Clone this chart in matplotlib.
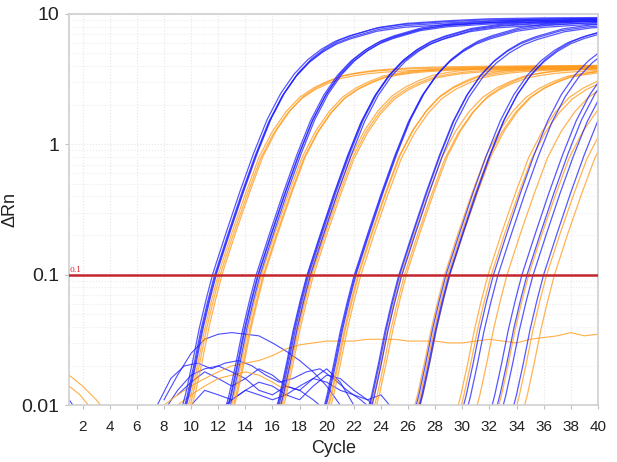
import matplotlib.pyplot as plt
from matplotlib.ticker import FixedLocator, LogLocator, NullFormatter

plt.rcParams['font.family'] = ['Liberation Sans', 'DejaVu Sans']

# amplification profile: log10(dRn) against cycles past the 0.1 crossing
profile_offset = [-3, -2.5, -2, -1.5, -1, -0.5, 0, 1, 2, 3, 4, 5, 6, 7, 8, 9, 10, 11, 12, 14, 17, 20, 24, 30]
blue_log = [-2.35, -2.12, -1.92, -1.68, -1.42, -1.2, -1.0, -0.68, -0.37, -0.08, 0.18, 0.38, 0.53,
            0.64, 0.72, 0.78, 0.82, 0.85, 0.88, 0.91, 0.93, 0.945, 0.952, 0.956]
orange_log = [-2.35, -2.12, -1.92, -1.68, -1.42, -1.2, -1.0, -0.68, -0.38, -0.1, 0.1, 0.25, 0.36,
              0.43, 0.48, 0.52, 0.54, 0.555, 0.565, 0.578, 0.586, 0.59, 0.594, 0.597]

# threshold crossing cycle and plateau factor per well
blue_ct = [11.6, 11.7, 11.8, 11.9, 14.8, 14.9, 15.0, 15.1, 18.5, 18.6, 18.7, 18.8,
           22.0, 22.1, 22.2, 25.3, 25.4, 25.5, 28.8, 29.0, 29.1,
           32.3, 32.6, 34.4, 34.8, 35.2, 36.0]
blue_gain = [1.02, 0.97, 1.0, 1.04, 1.0, 0.98, 1.03, 1.01, 0.96, 1.0, 1.02, 0.99,
             0.97, 1.0, 1.03, 0.98, 1.01, 0.96, 1.0, 0.98, 1.02,
             1.0, 0.97, 1.0, 1.02, 0.98, 1.0]
orange_ct = [12.0, 12.1, 12.3, 15.2, 15.3, 15.4, 18.8, 18.9, 19.0,
             22.3, 22.4, 22.5, 25.5, 25.7, 25.9, 28.7, 28.9, 29.1,
             31.9, 32.1, 33.3, 34.9, 36.2, 36.8]
orange_gain = [1.0, 0.97, 1.02, 1.01, 0.98, 1.0, 1.02, 0.99, 0.97, 1.0, 1.03, 0.98,
               1.0, 0.97, 1.02, 1.0, 0.98, 1.01, 1.0, 0.97, 1.0, 1.0, 0.98, 1.0]

# baseline noise traces (cycle, dRn)
blue_noise = [
    ([8, 9, 10, 11, 12, 13, 14, 15, 16, 17, 18, 19, 20, 21],
     [0.011, 0.017, 0.025, 0.032, 0.035, 0.036, 0.035, 0.034, 0.030, 0.026, 0.022, 0.018, 0.014, 0.010]),
    ([7.5, 8.5, 9.5, 10.5, 11.5, 12.5, 13.5, 14.5, 15.5, 16.5, 17.5, 18.5, 19.5, 20.5, 21.5, 22.5, 23.5],
     [0.010, 0.016, 0.020, 0.021, 0.019, 0.021, 0.022, 0.020, 0.017, 0.015, 0.016, 0.018, 0.019, 0.016,
      0.013, 0.011, 0.009]),
    ([9, 10, 11, 12, 13, 14, 15, 16, 17, 18, 19, 20, 21, 22],
     [0.012, 0.015, 0.018, 0.016, 0.014, 0.016, 0.019, 0.017, 0.014, 0.013, 0.016, 0.019, 0.015, 0.010]),
    ([10, 11, 12, 13, 14, 15, 16, 17, 18, 19, 20, 21, 22, 23, 24],
     [0.010, 0.013, 0.012, 0.011, 0.013, 0.015, 0.014, 0.012, 0.011, 0.014, 0.017, 0.016, 0.013, 0.011, 0.009]),
    ([8, 9, 10, 11, 12, 13, 14, 15, 16, 17, 18, 19, 20],
     [0.009, 0.013, 0.017, 0.019, 0.020, 0.018, 0.016, 0.013, 0.012, 0.014, 0.013, 0.011, 0.009]),
    ([12, 13, 14, 15, 16, 17, 18, 19, 20, 21, 22, 23, 24, 25],
     [0.009, 0.011, 0.013, 0.012, 0.011, 0.012, 0.014, 0.016, 0.015, 0.013, 0.012, 0.011, 0.012, 0.009]),
    ([1, 1.6], [0.011, 0.009]),
]
orange_noise = [
    ([8, 9, 10, 11, 12, 13, 14, 15, 16, 17, 18, 19, 20, 21, 22, 23, 24, 25, 26, 27, 28, 29, 30,
      31, 32, 33, 34, 35, 36, 37, 38, 39, 40],
     [0.010, 0.012, 0.014, 0.016, 0.018, 0.020, 0.021, 0.022, 0.024, 0.027, 0.029, 0.030, 0.031,
      0.031, 0.031, 0.032, 0.032, 0.032, 0.031, 0.031, 0.031, 0.030, 0.030, 0.031, 0.032, 0.031,
      0.030, 0.032, 0.033, 0.034, 0.036, 0.034, 0.035]),
    ([9, 10, 11, 12, 13, 14, 15, 16, 17],
     [0.010, 0.012, 0.014, 0.016, 0.017, 0.018, 0.017, 0.015, 0.013]),
    ([1, 2, 3, 3.5], [0.017, 0.014, 0.011, 0.0095]),
    ([1, 1.8, 2.6], [0.014, 0.012, 0.0095]),
]

x_ticks = list(range(2, 41, 2))
threshold = 0.1

BLUE = '#1f1fff'
ORANGE = '#ff9a1a'

fig = plt.figure(figsize=(6.17, 4.62), dpi=100)
ax = fig.add_axes([0.112, 0.123, 0.857, 0.847])

for (xs, ys) in blue_noise:
    ax.plot(xs, ys, color=BLUE, lw=0.8, alpha=0.8)
for (xs, ys) in orange_noise:
    ax.plot(xs, ys, color=ORANGE, lw=0.8, alpha=0.8)

for ct, g in zip(orange_ct, orange_gain):
    xs = [ct + o for o in profile_offset]
    ys = [g * 10 ** v for v in orange_log]
    ax.plot(xs, ys, color=ORANGE, lw=0.9, alpha=0.75)
for ct, g in zip(blue_ct, blue_gain):
    xs = [ct + o for o in profile_offset]
    ys = [g * 10 ** v for v in blue_log]
    ax.plot(xs, ys, color=BLUE, lw=0.9, alpha=0.75)

ax.axhline(threshold, color='#c4262e', lw=1.8, zorder=5)
ax.text(1.05, threshold * 1.02, '0.1', color='#e0202a', fontsize=5.5, va='bottom', ha='left',
        family='DejaVu Serif')

ax.set_yscale('log')
ax.set_xlim(1, 40)
ax.set_ylim(0.01, 10)
ax.set_yticks([0.01, 0.1, 1, 10])
ax.set_yticklabels(['0.01', '0.1', '1', '10'])
ax.yaxis.set_minor_locator(LogLocator(base=10, subs=range(2, 10)))
ax.yaxis.set_minor_formatter(NullFormatter())
ax.xaxis.set_major_locator(FixedLocator(x_ticks))

ax.grid(True, which='major', color='#e6e6e6', lw=0.8, ls=':')
ax.grid(True, which='minor', axis='y', color='#ececec', lw=0.8, ls=':')

for s in ax.spines.values():
    s.set_color('#d0d0d0')
    s.set_linewidth(1.2)
ax.tick_params(axis='x', which='major', length=3, color='#c0c0c0', labelsize=11,
               labelcolor='#222222', pad=8)
ax.tick_params(axis='y', which='major', length=3, color='#c0c0c0', labelsize=14,
               labelcolor='#222222', pad=4)
ax.tick_params(axis='y', which='minor', length=0)

ax.set_xlabel('Cycle', fontsize=13, color='#222222', labelpad=4)
ax.set_ylabel('ΔRn', fontsize=13, color='#222222', labelpad=2)

fig.savefig('out.png', dpi=100)
